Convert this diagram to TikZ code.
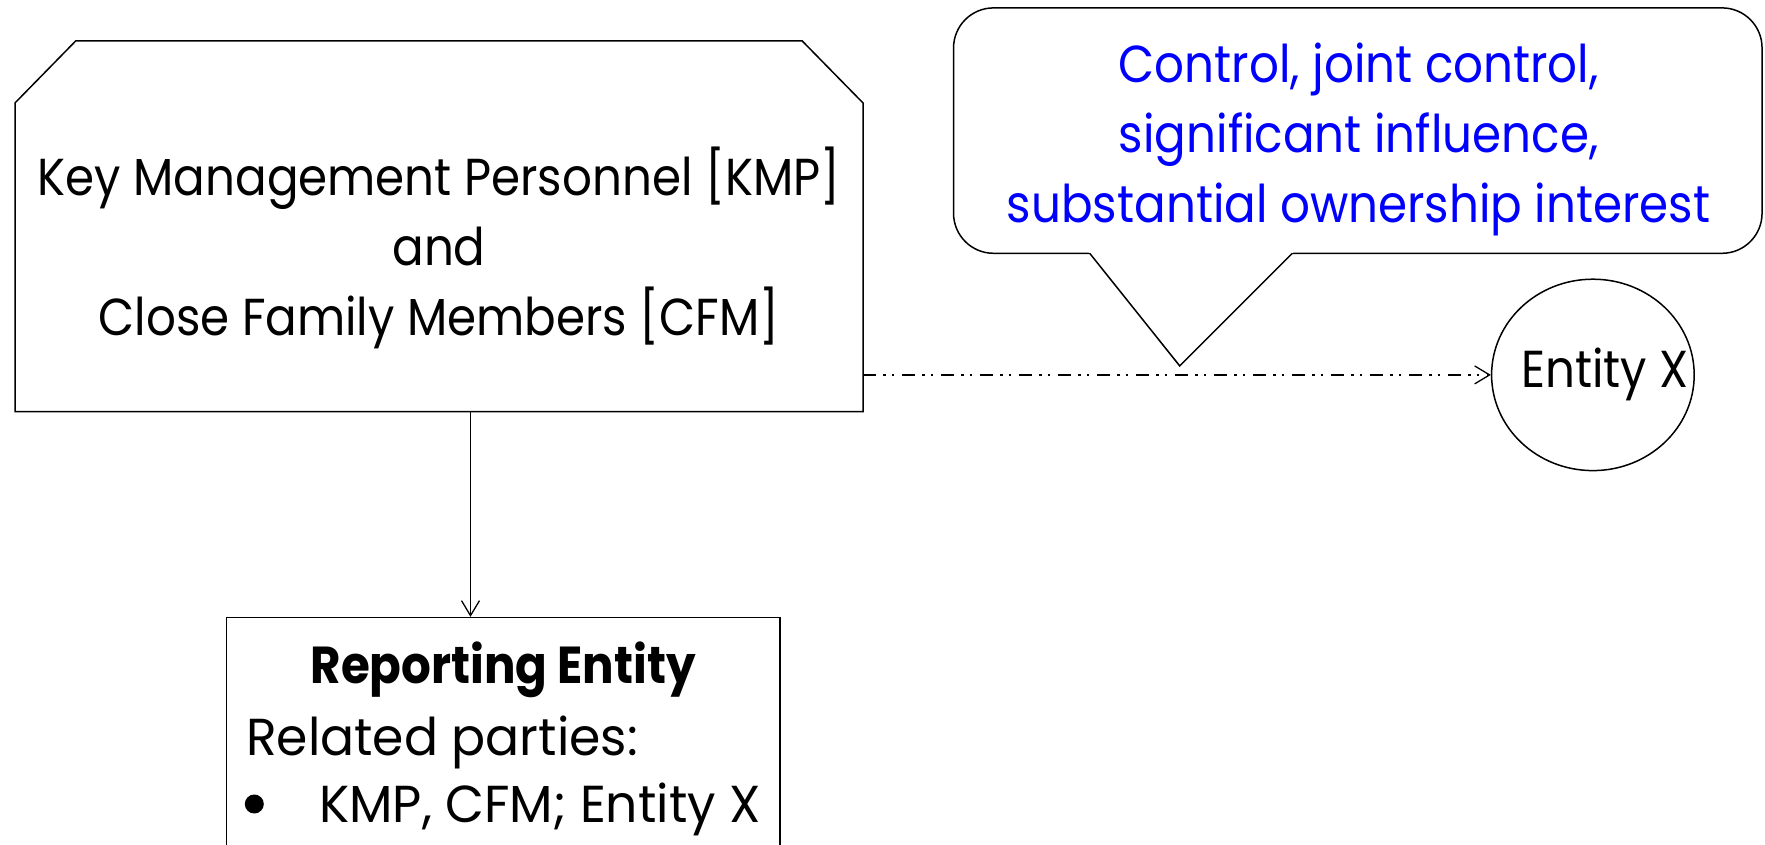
\documentclass[tikz,border=0pt]{standalone}
\usepackage{fontspec}
\setmainfont{Poppins}[FakeStretch=0.9]
\newfontfamily\widefont{Poppins}[FakeStretch=0.97]
\usetikzlibrary{arrows.meta,shapes.geometric,calc}
\definecolor{calloutblue}{RGB}{0,0,255}
\begin{document}
\begin{tikzpicture}[x=1pt,y=-1pt,line width=1.5pt,
  bigtext/.style={font=\fontsize{52}{70}\selectfont, inner sep=0pt},
  widetext/.style={font=\widefont\fontsize{52}{70}\selectfont, inner sep=0pt},
  frame/.style={draw=black, line width=1.5pt},
  arr/.style={-{Straight Barb[length=15pt,width=18pt,line width=1.3pt]}, line width=1.3pt},
  dashdotdot/.style={dash pattern=on 13pt off 7pt on 2.5pt off 6pt on 2.5pt off 8pt}]
\useasboundingbox (0,0) rectangle (1765,845);
\fill[white] (0,0) rectangle (1765,845);

% KMP box (chamfered)
\node[inner sep=0, minimum width=846.5pt, minimum height=369.2pt] (kmp) at (439,226.3) {};
\draw[frame] (kmp.south west) -- ($(kmp.north west)+(0,62)$) -- ($(kmp.north west)+(60.7,0)$)
  -- ($(kmp.north east)+(-60.8,0)$) -- ($(kmp.north east)+(0,62)$) -- (kmp.south east) -- cycle;
\node[bigtext, align=center] (kmptext) at (439,247.7) {Key Management Personnel [KMP]\\and\\Close Family Members [CFM]};

% Reporting entity box
\begin{scope}
\clip (0,0) rectangle (1765,845);
\node[frame, inner sep=0, minimum width=553.8pt, minimum height=263pt, anchor=north] (rep) at (503.2,616.9) {};
\end{scope}
\node[bigtext, font=\fontsize{52}{70}\selectfont\bfseries] (reptitle) at (503.2,669.5) {Reporting Entity};
\node[widetext, anchor=west] (related) at (245.4,742) {Related parties:};
\node[circle, fill=black, inner sep=0pt, minimum size=19pt] (bullet) at (254.3,804) {};
\node[widetext, anchor=west] (kmpline) at (318.5,809) {KMP, CFM; Entity X};

% Entity X
\node[frame, ellipse, inner sep=0, minimum width=202.6pt, minimum height=191.4pt] (ent) at (1592.9,374.9) {};
\node[bigtext] (enttext) at ($(ent.center)+(12,0)$) {Entity X};

% Callout
\node[frame, rounded corners=40pt, inner sep=0, minimum width=808.5pt, minimum height=245.4pt, fill=white] (call) at (1357.8,130.6) {};
\coordinate (tip) at (1179.7,365.9);
\coordinate (bl) at (1089.7,253.3);
\coordinate (br) at (1292.3,253.3);
\fill[white] (1088.1,251.3) -- (tip) -- (1294.3,251.3) -- cycle;
\draw[frame, line join=miter] (bl) -- (tip) -- (br);
\node[bigtext, align=center, text=calloutblue] (calltext) at (1358.7,139) {Control, joint control,\\significant influence,\\substantial ownership interest};

% connectors
\coordinate (arrx) at (470.5,0);
\draw[arr] (kmp.south -| arrx) -- (rep.north -| arrx);
\draw[arr, dashdotdot] (kmp.east |- ent.west) -- (ent.west);
\end{tikzpicture}
\end{document}
